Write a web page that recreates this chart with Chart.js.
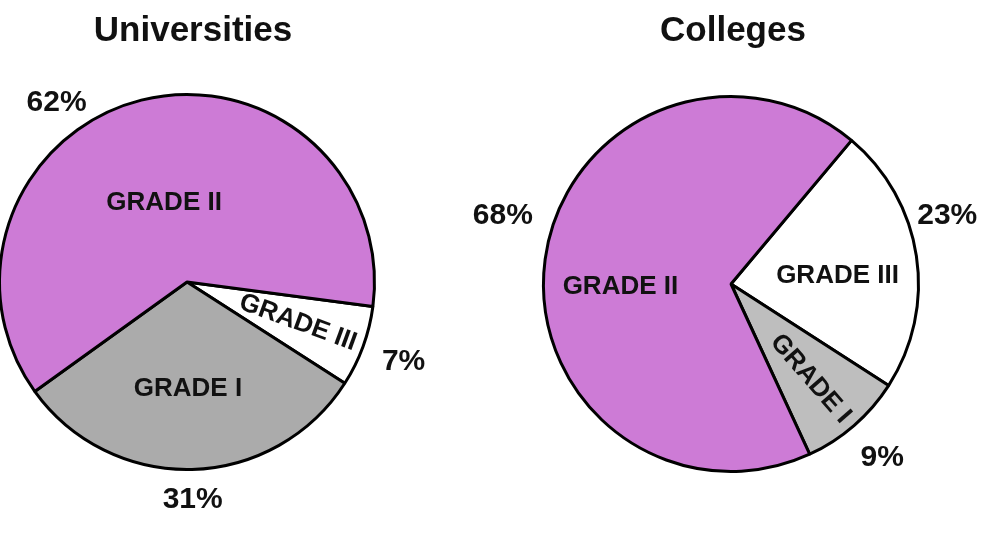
<!DOCTYPE html>
<html>
<head>
<meta charset="utf-8">
<script src="https://cdn.jsdelivr.net/npm/chart.js@4.4.1/dist/chart.umd.min.js"></script>
<style>
  html, body { margin:0; padding:0; background:#fff; width:998px; height:540px; overflow:hidden; position:relative; }
  .title { position:absolute; top:9px; font-family:"Liberation Sans", Arial, sans-serif; font-weight:bold; font-size:35px; color:#111; transform:translateX(-50%); white-space:nowrap; }
  .wrap { position:absolute; top:0; height:540px; }
</style>
</head>
<body>
<div class="wrap" style="left:-20px;width:480px;"><canvas id="c1"></canvas></div>
<div class="wrap" style="left:460px;width:538px;"><canvas id="c2"></canvas></div>
<div class="title" style="left:193px;">Universities</div>
<div class="title" style="left:733px;">Colleges</div>
<script>
// ---- data ----
const categories = ['GRADE III', 'GRADE I', 'GRADE II'];
const universitiesValues = [7, 31, 62];
const collegesValues = [23, 9, 68];
const percentLabels1 = ['7%', '31%', '62%'];
const percentLabels2 = ['23%', '9%', '68%'];

// ---- styles ----
const pink = '#CD7BD6';
const colors1 = ['#FFFFFF', '#ABABAB', pink];
const colors2 = ['#FFFFFF', '#BEBEBE', pink];
// label placement styles: angle offset (deg), radius factor, rotate along slice
const innerStyle1 = [{dA:0, rf:0.63, rot:true}, {dA:1, rf:0.57}, {dA:-2, rf:0.44}];
const outerStyle1 = [{dA:0, rf:1.23}, {dA:0, rf:1.16}, {dA:-22, rf:1.18}];
const innerStyle2 = [{dA:4, rf:0.57}, {dA:1, rf:0.66, rot:true}, {dA:-9, rf:0.59}];
const outerStyle2 = [{dA:-9, rf:1.21}, {dA:0, rf:1.23}, {dA:9, rf:1.27}];

const FONT = '"Liberation Sans", Arial, sans-serif';

const labelPlugin = {
  id: 'sliceLabels',
  afterDatasetsDraw(chart) {
    const ctx = chart.ctx;
    const o = chart.options.plugins.sliceLabels;
    const meta = chart.getDatasetMeta(0);
    meta.data.forEach((arc, i) => {
      const p = arc.getProps(['x','y','startAngle','endAngle','outerRadius'], true);
      const mid = (p.startAngle + p.endAngle) / 2;
      const is = o.inner[i];
      const a1 = mid + is.dA * Math.PI / 180;
      const x1 = p.x + Math.cos(a1) * p.outerRadius * is.rf;
      const y1 = p.y + Math.sin(a1) * p.outerRadius * is.rf;
      ctx.save();
      ctx.translate(x1, y1);
      if (is.rot) ctx.rotate(mid);
      ctx.font = 'bold 26px ' + FONT;
      ctx.fillStyle = '#111';
      ctx.textAlign = 'center';
      ctx.textBaseline = 'middle';
      ctx.fillText(chart.data.labels[i], 0, 0);
      ctx.restore();
      const os = o.outer[i];
      const a2 = mid + os.dA * Math.PI / 180;
      const x2 = p.x + Math.cos(a2) * p.outerRadius * os.rf;
      const y2 = p.y + Math.sin(a2) * p.outerRadius * os.rf;
      ctx.save();
      ctx.font = 'bold 30px ' + FONT;
      ctx.fillStyle = '#111';
      ctx.textAlign = 'center';
      ctx.textBaseline = 'middle';
      ctx.fillText(o.texts[i], x2, y2);
      ctx.restore();
    });
  }
};

function makePie(id, values, colors, rotation, padding, inner, outer, texts) {
  return new Chart(document.getElementById(id), {
    type: 'pie',
    data: {
      labels: categories,
      datasets: [{
        data: values,
        backgroundColor: colors,
        borderColor: '#000',
        borderWidth: 3,
        hoverOffset: 0
      }]
    },
    options: {
      responsive: true,
      maintainAspectRatio: false,
      animation: false,
      events: [],
      rotation: rotation,
      layout: { padding: padding },
      plugins: {
        legend: { display: false },
        tooltip: { enabled: false },
        title: { display: false },
        sliceLabels: { inner: inner, outer: outer, texts: texts }
      }
    },
    plugins: [labelPlugin]
  });
}

makePie('c1', universitiesValues, colors1, 97.5,
  {left: 18, right: 84, top: 93, bottom: 69}, innerStyle1, outerStyle1, percentLabels1);
makePie('c2', collegesValues, colors2, 40,
  {left: 82, right: 78, top: 95, bottom: 67}, innerStyle2, outerStyle2, percentLabels2);
</script>
</body>
</html>
